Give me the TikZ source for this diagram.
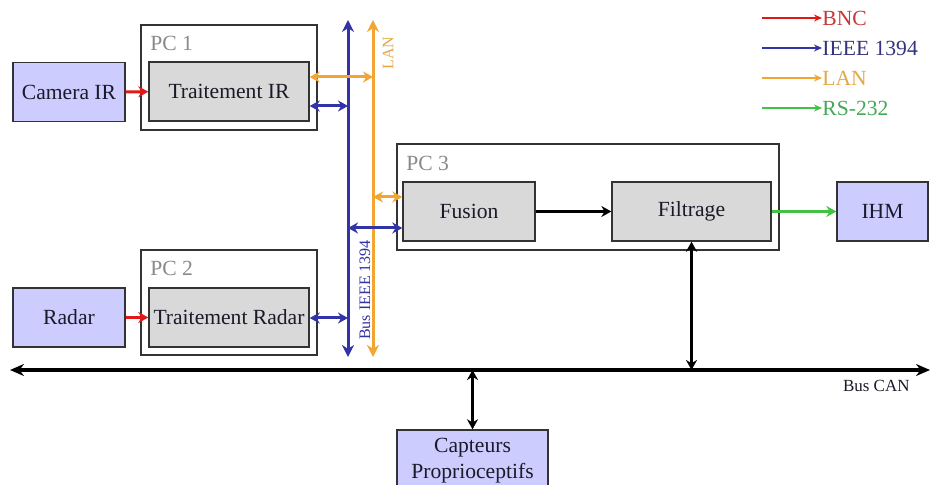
\documentclass[tikz,border=0pt]{standalone}
\usepackage{fontspec}
\setmainfont{Liberation Serif}
\newfontfamily\diagserif{Liberation Serif}
\usetikzlibrary{arrows.meta}
\definecolor{lav}{HTML}{CCCCFF}
\definecolor{gbox}{HTML}{D9D9D9}
\definecolor{busblue}{HTML}{3333A8}
\definecolor{lanorange}{HTML}{F2A530}
\definecolor{bncred}{HTML}{E01818}
\definecolor{rsgreen}{HTML}{44C044}
\definecolor{pcgray}{HTML}{8A8A8A}
\definecolor{edge}{HTML}{333333}
\definecolor{legred}{HTML}{C83838}
\definecolor{legblue}{HTML}{34347E}
\definecolor{legorange}{HTML}{E4A848}
\definecolor{leggreen}{HTML}{44A858}
\definecolor{ink}{HTML}{1A1A2A}
\begin{document}
\begin{tikzpicture}[x=0.5pt,y=-0.5pt,
  every node/.style={font=\diagserif\fontsize{10.8}{13}\selectfont, inner sep=0pt, text=ink},
  ext/.style={draw=edge, line width=0.7pt, fill=lav, minimum height=29.5pt, align=center},
  proc/.style={draw=edge, line width=0.7pt, fill=gbox, minimum height=29.5pt},
  pcbox/.style={draw=edge, line width=0.7pt, fill=white, minimum width=88pt, minimum height=52.5pt},
  pclabel/.style={text=pcgray, anchor=west},
  onetip/.style={line width=1.5pt, -{Stealth[length=5pt,width=5.5pt]}},
  twotip/.style={line width=1.5pt, {Stealth[length=5pt,width=5.5pt]}-{Stealth[length=5pt,width=5.5pt]}},
  bustip/.style={line width=1.5pt, {Stealth[length=6pt,width=6pt]}-{Stealth[length=6pt,width=6pt]}},
  legarrow/.style={line width=0.6pt, -{Stealth[length=4pt,width=3.5pt]}},
  legtext/.style={anchor=west}
]
\useasboundingbox (0,0) rectangle (930,485);
\fill[white] (0,0) rectangle (930,485);

% PC boxes
\node[pcbox] (pc1) at (229,77.5) {};
\node[pclabel] (pc1l) at (150,43) {PC 1};
\node[pcbox] (pc2) at (229,302.5) {};
\node[pclabel] (pc2l) at (150,268) {PC 2};
\node[pcbox, minimum width=191pt, minimum height=53pt] (pc3) at (588,197) {};
\node[pclabel] (pc3l) at (406,163) {PC 3};

% blocks
\node[ext, minimum width=56pt] (cam) at (69,92) {Camera IR};
\node[proc, minimum width=80pt] (tir) at (229,91.5) {Traitement IR};
\node[ext, minimum width=56pt] (radar) at (69,317.5) {Radar};
\node[proc, minimum width=80pt] (trad) at (229,317.5) {Traitement Radar};
\node[proc, minimum width=66pt] (fusion) at (469,211.5) {Fusion};
\node[proc, minimum width=79.5pt] (filt) at (691.5,211.5) {Filtrage};
\node[ext, minimum width=45.5pt] (ihm) at (882.5,211.5) {IHM};
\node[ext, minimum width=75.5pt, minimum height=31pt] (capt) at (472.5,461) {Capteurs\\Proprioceptifs};

% buses
\coordinate (ieeeT) at (348,20);
\coordinate (ieeeB) at (348,357);
\coordinate (lanT) at (373,20);
\coordinate (lanB) at (373,357);
\coordinate (canL) at (10,370);
\coordinate (canR) at (930,370);
\draw[bustip, busblue] (ieeeB) -- (ieeeT);
\draw[bustip, lanorange] (lanB) -- (lanT);
\draw[line width=1.8pt, {Stealth[length=7pt,width=6pt]}-{Stealth[length=7pt,width=6pt]}] (canL) -- (canR);
\node[rotate=90, text=busblue, font=\diagserif\fontsize{8}{9}\selectfont] (ieeel) at (365,290) {Bus IEEE 1394};
\node[rotate=90, text=legorange, font=\diagserif\fontsize{8}{9}\selectfont] (lanl) at (388,53) {LAN};
\node[anchor=east, font=\diagserif\fontsize{8.5}{10}\selectfont] (canl) at (910,386) {Bus CAN};

% bus taps
\coordinate (a1) at (373,77);
\coordinate (b1) at (348,106);
\coordinate (b2) at (348,318);
\coordinate (a3) at (373,197);
\coordinate (b3) at (348,228);
\draw[twotip, lanorange] (tir.east |- a1) -- (a1);
\draw[twotip, busblue] (tir.east |- b1) -- (b1);
\draw[twotip, busblue] (trad.east |- b2) -- (b2);
\draw[twotip, lanorange] (a3) -- (fusion.west |- a3);
\draw[twotip, busblue] (b3) -- (fusion.west |- b3);

% links
\draw[onetip, bncred] (cam) -- (tir);
\draw[onetip, bncred] (radar) -- (trad);
\draw[onetip, black] (fusion) -- (filt);
\draw[onetip, rsgreen] (filt) -- (ihm);
\draw[twotip, black] (filt.south) -- (filt.south |- canL);
\draw[twotip, black] (capt.north) -- (capt.north |- canL);

% legend
\node[legtext, text=legred] (lbnc) at (822,18) {BNC};
\node[legtext, text=legblue] (lieee) at (822,48) {IEEE 1394};
\node[legtext, text=legorange] (llan) at (822,78) {LAN};
\node[legtext, text=leggreen] (lrs) at (822,108) {RS-232};
\coordinate (s1) at (762,18);
\coordinate (s2) at (762,48);
\coordinate (s3) at (762,78);
\coordinate (s4) at (762,108);
\draw[legarrow, bncred] (s1) -- (lbnc.west);
\draw[legarrow, busblue] (s2) -- (lieee.west);
\draw[legarrow, lanorange] (s3) -- (llan.west);
\draw[legarrow, rsgreen] (s4) -- (lrs.west);
\end{tikzpicture}
\end{document}
